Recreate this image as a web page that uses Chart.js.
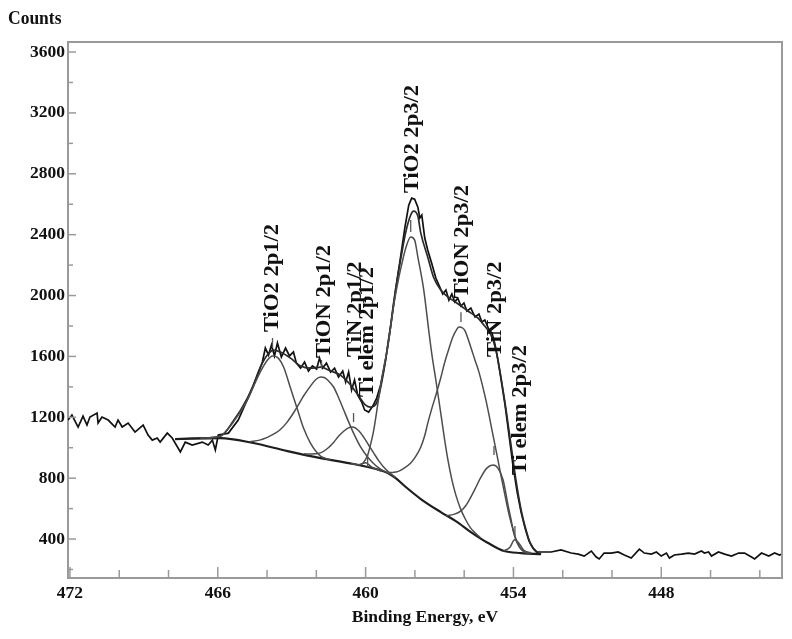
<!DOCTYPE html>
<html><head><meta charset="utf-8">
<script src="https://cdn.jsdelivr.net/npm/chart.js@4.4.0/dist/chart.umd.min.js"></script>
<style>html,body{margin:0;padding:0;background:#fff}</style>
</head><body>
<canvas id="c" width="792" height="639"></canvas>
<script>
// ---------- DATA (Binding energy eV, Counts) ----------
const rawSpectrum = [
[472.08,1182],[471.92,1215],[471.67,1136],[471.47,1208],[471.31,1149],[471.19,1202],[470.90,1228],[470.86,1162],
[470.70,1202],[470.45,1182],[470.17,1136],[470.05,1182],[469.88,1136],[469.64,1162],[469.36,1103],[469.03,1149],
[468.83,1083],[468.66,1050],[468.46,1064],[468.34,1037],[468.05,1096],[467.85,1064],[467.52,972],[467.32,1037],
[467.04,1018],[466.63,1037],[466.39,1018],[466.22,1050],[466.10,985],[465.98,1083],[465.57,1096],[465.17,1182],
[464.76,1333],[464.56,1405],[464.39,1477],[464.19,1563],[464.07,1655],[463.94,1609],[463.82,1675],[463.70,1603],
[463.58,1688],[463.42,1596],[463.25,1655],[463.09,1603],[462.93,1629],[462.81,1556],[462.64,1523],[462.48,1563],
[462.32,1504],[462.16,1537],[461.99,1517],[461.87,1589],[461.75,1523],[461.59,1556],[461.42,1497],[461.26,1523],
[461.10,1464],[460.93,1504],[460.81,1431],[460.69,1497],[460.57,1379],[460.45,1445],[460.32,1346],[460.16,1300],
[460.04,1248],[459.88,1234],[459.71,1274],[459.55,1326],[459.39,1412],[459.19,1576],[458.98,1806],[458.78,2036],
[458.57,2266],[458.41,2443],[458.25,2594],[458.13,2640],[458.01,2633],[457.88,2581],[457.80,2509],[457.72,2529],
[457.60,2378],[457.48,2299],[457.31,2207],[457.15,2115],[456.99,2056],[456.87,2010],[456.74,2036],[456.62,1970],
[456.50,2010],[456.38,1957],[456.26,1983],[456.13,1931],[456.01,1951],[455.89,1898],[455.73,1918],[455.56,1859],
[455.40,1878],[455.28,1826],[455.16,1839],[454.99,1773],[454.87,1753],[454.75,1681],[454.63,1576],[454.51,1458],
[454.34,1280],[454.18,1083],[454.02,886],[453.85,709],[453.69,577],[453.53,472],[453.37,387],[453.20,341],
[453.04,315],[452.88,315],[452.47,315],[452.07,328],[451.66,308],[451.37,301],[451.13,288],[450.84,321],
[450.64,282],[450.52,269],[450.32,308],[450.03,308],[449.75,315],[449.50,295],[449.22,275],[448.89,334],
[448.69,308],[448.40,301],[448.20,315],[448.00,288],[447.79,308],[447.67,275],[447.47,295],[447.18,301],
[446.90,308],[446.65,301],[446.37,321],[446.25,308],[446.08,315],[445.96,288],[445.68,315],[445.43,301],
[445.15,288],[444.86,308],[444.62,308],[444.34,282],[444.21,269],[443.93,308],[443.64,288],[443.40,308],
[443.20,295],[443.11,301]
];
const envelopeFit = [
[467.73,1057],[466.71,1063],[465.90,1076],[465.37,1175],[464.80,1326],[464.56,1412],[464.27,1530],[463.99,1609],
[463.74,1642],[463.46,1629],[463.05,1589],[462.64,1537],[462.24,1523],[461.83,1530],[461.42,1504],[461.02,1477],
[460.61,1412],[460.28,1340],[460.00,1280],[459.80,1267],[459.51,1313],[459.27,1497],[459.10,1675],[458.98,1806],
[458.86,1957],[458.70,2128],[458.57,2246],[458.37,2417],[458.17,2529],[458.05,2555],[457.88,2522],[457.76,2410],
[457.48,2253],[457.23,2115],[456.95,2036],[456.66,1990],[456.42,1964],[456.13,1931],[455.85,1898],[455.44,1852],
[455.20,1806],[454.91,1740],[454.71,1642],[454.51,1464],[454.30,1248],[454.10,1018],[453.90,788],[453.69,591],
[453.49,459],[453.29,361],[453.08,315],[452.88,301]
];
const background = [
[467.73,1057],[465.90,1063],[464.56,1031],[463.17,978],[461.83,932],[460.49,893],[459.10,834],[458.78,800],
[458.37,742],[457.76,663],[456.95,577],[456.34,518],[455.73,446],[455.03,374],[454.38,321],[453.69,308],[452.88,301]
];
const tio2_2p12 = [[466.71,1063],[465.90,1076],[465.37,1169],[464.80,1313],[464.56,1399],[464.27,1500],[463.99,1575],
[463.78,1603],[463.58,1594],[463.33,1530],[463.05,1392],[462.76,1248],[462.52,1129],[462.24,1031],[461.83,945],[461.42,920]];
const tion_2p12 = [[464.70,1040],[464.30,1050],[463.99,1068],[463.70,1092],[463.46,1120],[463.20,1165],[462.93,1228],
[462.70,1290],[462.52,1340],[462.24,1405],[462.02,1448],[461.83,1464],[461.66,1460],[461.54,1445],[461.30,1399],
[461.10,1330],[460.89,1248],[460.69,1170],[460.49,1096],[460.20,1004],[459.92,939],[459.70,900],[459.51,873],
[459.25,846],[458.98,827]];
const tin_2p12 = [[462.50,960],[462.20,958],[461.83,966],[461.55,995],[461.30,1035],[461.10,1075],[460.89,1108],
[460.70,1130],[460.53,1136],[460.30,1115],[460.08,1070],[459.88,1018],[459.67,965],[459.47,915],[459.27,873],
[459.05,838],[458.78,805]];
const tielem_2p12 = [[460.60,897],[460.25,888],[460.00,902],[459.75,872],[459.35,845]];
const tio2_2p32 = [[460.30,886],[460.10,900],[459.92,950],[459.80,1020],[459.67,1116],[459.53,1260],[459.39,1412],
[459.25,1540],[459.10,1661],[458.86,1937],[458.70,2080],[458.57,2180],[458.37,2312],[458.17,2384],[458.01,2364],
[457.88,2253],[457.64,2036],[457.44,1773],[457.30,1600],[457.15,1445],[456.95,1228],[456.80,1060],[456.66,920],
[456.50,790],[456.34,690],[456.15,600],[455.95,530],[455.75,475],[455.55,440],[455.35,410]];
const tion_2p32 = [[459.10,836],[458.90,838],[458.70,843],[458.45,865],[458.17,900],[457.96,945],[457.76,1005],
[457.60,1080],[457.48,1160],[457.30,1265],[457.15,1345],[456.95,1460],[456.80,1555],[456.66,1630],[456.46,1727],
[456.30,1778],[456.21,1793],[456.05,1785],[455.97,1770],[455.73,1660],[455.56,1575],[455.40,1497],[455.12,1314],
[454.83,1083],[454.66,945],[454.51,820],[454.36,700],[454.22,591],[454.05,480],[453.90,393],[453.75,345],
[453.61,325],[453.29,310]];
const tin_2p32 = [[456.75,552],[456.42,562],[456.13,585],[455.93,620],[455.73,676],[455.52,742],[455.32,807],
[455.08,866],[454.83,886],[454.63,866],[454.42,788],[454.22,623],[454.10,530],[453.98,439],[453.83,375],
[453.69,332],[453.50,310],[453.30,305]];
const tielem_2p32 = [[454.40,322],[454.15,345],[453.95,395],[453.80,378],[453.60,330],[453.35,306]];

// peak labels (text), anchor in data coords, marker in data coords
const peakNames = ['TiO2 2p1/2','TiON 2p1/2','TiN 2p1/2','Ti elem 2p1/2','TiO2 2p3/2','TiON 2p3/2','TiN 2p3/2','Ti elem 2p3/2'];
const labelE    = [463.54, 461.46, 460.20, 459.71, 457.88, 455.85, 454.51, 453.49];
const labelC    = [1760, 1589, 1596, 1333, 2673, 1983, 1596, 820];
const markE     = [463.78, 461.79, 460.49, 459.92, 458.17, 456.13, 454.79, 453.94];
const markTopC  = [1721, 1576, 1228, 952, 2496, 1891, 1011, 485];
const markBotC  = [1655, 1523, 1169, 873, 2417, 1826, 952, 420];

const xMajorTicks = [472, 466, 460, 454, 448];
const xTickLabels = ['472','466','460','454','448'];
const xMinorTicks = [470, 468, 464, 462, 458, 456, 452, 450, 446, 444];
const yMajorTicks = [400, 800, 1200, 1600, 2000, 2400, 2800, 3200, 3600];
const yTickLabels = ['400','800','1200','1600','2000','2400','2800','3200','3600'];
const yMinorTicks = [200, 600, 1000, 1400, 1800, 2200, 2600, 3000, 3400];
const axisTitleX = 'Binding Energy, eV';
const axisTitleY = 'Counts';

// ---------- CHART ----------
const SERIF = '"Liberation Serif", "Times New Roman", serif';
const toXY = a => a.map(p => ({x: p[0], y: p[1]}));
const compStyle = {borderColor: '#4d4d4d', borderWidth: 1.5, pointRadius: 0, cubicInterpolationMode: 'monotone', fill: false};
const components = [tio2_2p12, tion_2p12, tin_2p12, tielem_2p12, tio2_2p32, tion_2p32, tin_2p32, tielem_2p32];
const datasets = components.map((c, i) => Object.assign({label: peakNames[i], data: toXY(c)}, compStyle));
datasets.push({label: 'Background', data: toXY(background), borderColor: '#1e1e1e', borderWidth: 2.2, pointRadius: 0, cubicInterpolationMode: 'monotone'});
datasets.push({label: 'Envelope', data: toXY(envelopeFit), borderColor: '#2a2a2a', borderWidth: 1.7, pointRadius: 0, cubicInterpolationMode: 'monotone'});
datasets.push({label: 'Spectrum', data: toXY(rawSpectrum), borderColor: '#111', borderWidth: 1.7, pointRadius: 0, tension: 0});

const decor = {
  id: 'decor',
  afterDraw(chart) {
    const {ctx, chartArea: a, scales: {x, y}} = chart;
    ctx.save();
    ctx.strokeStyle = '#9a9a9a'; ctx.lineWidth = 2;
    ctx.beginPath(); ctx.moveTo(a.left, a.top); ctx.lineTo(a.right, a.top); ctx.lineTo(a.right, a.bottom); ctx.stroke();
    ctx.lineWidth = 1.5;
    x.ticks.forEach(t => {
      const px = x.getPixelForValue(t.value);
      const len = xMajorTicks.includes(t.value) ? 11 : 8;
      ctx.beginPath(); ctx.moveTo(px, a.bottom); ctx.lineTo(px, a.bottom - len); ctx.stroke();
    });
    y.ticks.forEach(t => {
      const py = y.getPixelForValue(t.value);
      const len = yMajorTicks.includes(t.value) ? 8 : 5;
      ctx.beginPath(); ctx.moveTo(a.left, py); ctx.lineTo(a.left + len, py); ctx.stroke();
    });
    ctx.fillStyle = '#111';
    ctx.font = 'bold 17.5px ' + SERIF;
    ctx.textAlign = 'left'; ctx.textBaseline = 'alphabetic';
    ctx.save(); ctx.translate(8, 24); ctx.scale(1, 1.13); ctx.fillText(axisTitleY, 0, 0); ctx.restore();
    ctx.font = 'bold 20px ' + SERIF;
    peakNames.forEach((n, i) => {
      const px = x.getPixelForValue(labelE[i]);
      const py = y.getPixelForValue(labelC[i]);
      ctx.save(); ctx.translate(px, py); ctx.scale(1, 1.13); ctx.rotate(-Math.PI / 2);
      ctx.fillText(n, 0, 0); ctx.restore();
      const mx = x.getPixelForValue(markE[i]);
      ctx.strokeStyle = '#555'; ctx.lineWidth = 1.3;
      ctx.beginPath(); ctx.moveTo(mx, y.getPixelForValue(markTopC[i])); ctx.lineTo(mx, y.getPixelForValue(markBotC[i])); ctx.stroke();
    });
    ctx.restore();
  }
};

new Chart(document.getElementById('c'), {
  type: 'line',
  data: {datasets},
  options: {
    responsive: false, animation: false, devicePixelRatio: 1,
    layout: {padding: {top: 42, right: 10, left: 0, bottom: 0}},
    plugins: {legend: {display: false}, tooltip: {enabled: false}},
    scales: {
      x: {
        type: 'linear', reverse: true, min: 443.1, max: 472.08,
        afterBuildTicks: s => { s.ticks = xMajorTicks.concat(xMinorTicks).sort((p, q) => q - p).map(v => ({value: v})); },
        afterFit: s => { s.height = 61; },
        grid: {display: false, drawTicks: false, tickLength: 0},
        border: {display: true, color: '#9a9a9a', width: 2},
        ticks: {autoSkip: false, maxRotation: 0, padding: 5, color: '#111',
          font: {family: SERIF, size: 17.5, weight: 'bold'},
          callback: v => { const i = xMajorTicks.indexOf(v); return i >= 0 ? xTickLabels[i] : ''; }},
        title: {display: true, text: axisTitleX, color: '#111', padding: {top: 0, bottom: 11},
          font: {family: SERIF, size: 17.5, weight: 'bold'}}
      },
      y: {
        type: 'linear', min: 144, max: 3666,
        afterBuildTicks: s => { s.ticks = yMinorTicks.concat(yMajorTicks).sort((p, q) => p - q).map(v => ({value: v})); },
        afterFit: s => { s.width = 68; },
        grid: {display: false, drawTicks: false, tickLength: 0},
        border: {display: true, color: '#9a9a9a', width: 2},
        ticks: {autoSkip: false, padding: 3, color: '#111',
          font: {family: SERIF, size: 17.5, weight: 'bold'},
          callback: v => { const i = yMajorTicks.indexOf(v); return i >= 0 ? yTickLabels[i] : ''; }}
      }
    }
  },
  plugins: [decor]
});
</script>
</body></html>
